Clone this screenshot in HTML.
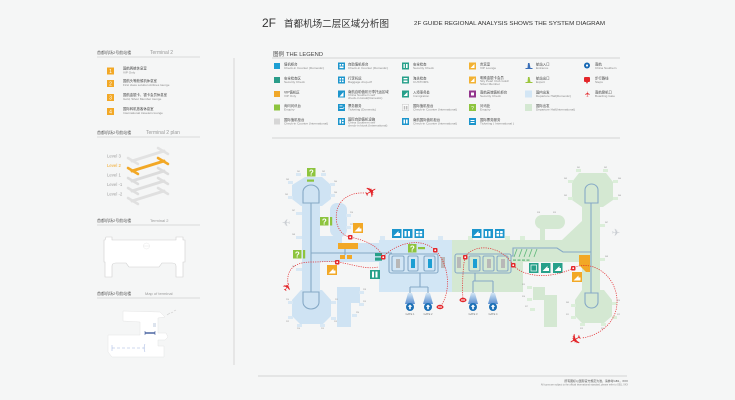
<!DOCTYPE html>
<html><head><meta charset="utf-8">
<style>
html,body{margin:0;padding:0;background:#f5f6f6;}
svg{display:block;}
.cn{font-family:"Liberation Sans","Noto Sans CJK SC",sans-serif;fill:#444;}
.en{font-family:"Liberation Sans",sans-serif;fill:#7a7a7a;}
.lc{font-size:3.4px;fill:#444;font-family:"Liberation Sans","Noto Sans CJK SC",sans-serif;}
.le{font-size:3.1px;fill:#888;font-family:"Liberation Sans",sans-serif;}
.tiny{font-size:1.8px;fill:#888;font-family:"Liberation Sans",sans-serif;}
.gt{font-size:2.6px;fill:#777;font-family:"Liberation Sans",sans-serif;}
</style></head><body>
<svg width="735" height="400" viewBox="0 0 735 400" xmlns="http://www.w3.org/2000/svg">
<rect width="735" height="400" fill="#f5f6f6"/>

<!-- TITLE -->
<text x="262" y="27" class="en" style="font-size:12px;fill:#333">2F</text>
<text x="284" y="27" class="cn" style="font-size:9.5px;fill:#333" textLength="105" lengthAdjust="spacingAndGlyphs">首都机场二层区域分析图</text>
<text x="414" y="25" class="en" style="font-size:5.5px;fill:#333" textLength="191" lengthAdjust="spacingAndGlyphs">2F GUIDE REGIONAL ANALYSIS SHOWS THE SYSTEM DIAGRAM</text>

<!-- LEFT PANEL -->
<line x1="234" y1="58" x2="234" y2="365" stroke="#cfcfcf" stroke-width="0.8"/>

<text x="97" y="54" class="cn" style="font-size:4px;fill:#555">首都机场2号航站楼</text>
<text x="150" y="54" class="en" style="font-size:5px;fill:#9a9a9a">Terminal 2</text>
<line x1="97" y1="57" x2="200" y2="57" stroke="#bdbdbd" stroke-width="0.6"/>

<g>
<rect x="107" y="67.5" width="7" height="7" fill="#f2a826"/><text x="110.5" y="73" class="en" style="font-size:5px;fill:#fff" text-anchor="middle">1</text>
<text x="123" y="69.5" class="lc">国航两舱休息室</text><text x="123" y="73.3" class="le">VIP Only</text>
<rect x="107" y="80" width="7" height="7" fill="#f2a826"/><text x="110.5" y="85.5" class="en" style="font-size:5px;fill:#fff" text-anchor="middle">2</text>
<text x="123" y="82" class="lc">国航头等舱候机休息室</text><text x="123" y="85.8" class="le">First class solution Airlines lounge</text>
<rect x="107" y="94" width="7" height="7" fill="#f2a826"/><text x="110.5" y="99.5" class="en" style="font-size:5px;fill:#fff" text-anchor="middle">3</text>
<text x="123" y="96" class="lc">国航金银卡、银卡会员休息室</text><text x="123" y="99.8" class="le">Gold, Silver Member lounge</text>
<rect x="107" y="108" width="7" height="7" fill="#f2a826"/><text x="110.5" y="113.5" class="en" style="font-size:5px;fill:#fff" text-anchor="middle">4</text>
<text x="123" y="110" class="lc">国际转机旅客休息室</text><text x="123" y="113.8" class="le">International travelers lounge</text>
</g>

<text x="97" y="134" class="cn" style="font-size:4px;fill:#555">首都机场2号航站楼</text>
<text x="146" y="134" class="en" style="font-size:5px;fill:#9a9a9a">Terminal 2 plan</text>
<line x1="97" y1="137" x2="200" y2="137" stroke="#bdbdbd" stroke-width="0.6"/>

<text x="107" y="157.5" class="en" style="font-size:4.3px;fill:#a0a0a0">Level 3</text>
<text x="107" y="167" class="en" style="font-size:4.3px;fill:#f2a826">Level 2</text>
<text x="107" y="176.5" class="en" style="font-size:4.3px;fill:#a0a0a0">Level 1</text>
<text x="107" y="186" class="en" style="font-size:4.3px;fill:#a0a0a0">Level -1</text>
<text x="107" y="195.5" class="en" style="font-size:4.3px;fill:#a0a0a0">Level -2</text>

<g stroke-linecap="round">
<g stroke="#e2e2e2" transform="translate(0,-10)"><line x1="132" y1="171" x2="164" y2="161" stroke-width="3"/><line x1="128" y1="168" x2="138" y2="174" stroke-width="2.5"/><line x1="158" y1="158" x2="168" y2="164" stroke-width="2.5"/></g>
<g stroke="#e0e0e0" transform="translate(0,30)"><line x1="132" y1="171" x2="164" y2="161" stroke-width="3"/><line x1="128" y1="168" x2="138" y2="174" stroke-width="2.5"/><line x1="158" y1="158" x2="168" y2="164" stroke-width="2.5"/></g>
<g stroke="#dedede" transform="translate(0,20)"><line x1="132" y1="171" x2="164" y2="161" stroke-width="3"/><line x1="128" y1="168" x2="138" y2="174" stroke-width="2.5"/><line x1="158" y1="158" x2="168" y2="164" stroke-width="2.5"/></g>
<g stroke="#dcdcdc" transform="translate(0,10)"><line x1="132" y1="171" x2="164" y2="161" stroke-width="3"/><line x1="128" y1="168" x2="138" y2="174" stroke-width="2.5"/><line x1="158" y1="158" x2="168" y2="164" stroke-width="2.5"/></g>
<g stroke="#f2a826"><line x1="132" y1="171" x2="164" y2="161" stroke-width="3"/><line x1="128" y1="168" x2="138" y2="174" stroke-width="2.5"/><line x1="158" y1="158" x2="168" y2="164" stroke-width="2.5"/></g>
</g>

<text x="97" y="222" class="cn" style="font-size:4px;fill:#555">首都机场2号航站楼</text>
<text x="150" y="222" class="en" style="font-size:4px;fill:#9a9a9a">Terminal 2</text>
<line x1="97" y1="225" x2="200" y2="225" stroke="#bdbdbd" stroke-width="0.6"/>

<!-- terminal outline -->
<path d="M106,237 h6 v3 h64 v-3 h7 v3 h2 v22 h-2 v15 h-7 v-11 q0,-3 -4,-3 h-10 l-3,4 h-30 l-3,-4 h-10 q-4,0 -4,3 v11 h-7 v-15 h-1 v-22 h1 z" fill="#ffffff" stroke="#cfcfcf" stroke-width="0.6"/>
<circle cx="146.5" cy="246" r="3" fill="none" stroke="#e0e0e0" stroke-width="0.4"/>
<line x1="143.5" y1="246" x2="149.5" y2="246" stroke="#e0e0e0" stroke-width="0.4"/>

<text x="97" y="295" class="cn" style="font-size:4px;fill:#555">首都机场2号航站楼</text>
<text x="145" y="295" class="en" style="font-size:4px;fill:#9a9a9a">Map of terminal</text>
<line x1="97" y1="298" x2="200" y2="298" stroke="#bdbdbd" stroke-width="0.6"/>

<!-- map of terminal -->
<path d="M123,311 L160,312 L165,317 L158,318 L158,333 L166,333 L168,337 L165,340 L158,340 L158,346 L164,346 L164,357 L112,357 L108,352 L108,335 L140,335 L140,322 L123,321 Z" fill="#ffffff" stroke="#e4e4e4" stroke-width="0.5"/>
<line x1="145" y1="333" x2="155" y2="333" stroke="#1f3f8a" stroke-width="1.2"/>
<line x1="145" y1="331" x2="145" y2="335" stroke="#1f3f8a" stroke-width="0.5"/><line x1="155" y1="331" x2="155" y2="335" stroke="#1f3f8a" stroke-width="0.5"/>
<line x1="112" y1="348" x2="145" y2="348" stroke="#9fb3e0" stroke-width="0.6" stroke-dasharray="3 2"/>
<path d="M112,345 v6 M145,344 q-2,4 0,8" stroke="#9fb3e0" stroke-width="0.5" fill="none"/>
<path d="M167,315 l3,-2 M171,313 l2,-1 M174,311 l2,-1" stroke="#cccccc" stroke-width="0.6"/>
<rect x="153" y="323" width="3" height="4" fill="#dde4ee"/>

<!-- LEGEND -->
<text x="273" y="56" class="cn" style="font-size:5.5px;fill:#444">图例</text>
<text x="286" y="56" class="en" style="font-size:5.8px;fill:#444">THE LEGEND</text>
<line x1="272" y1="58" x2="620" y2="58" stroke="#c8c8c8" stroke-width="0.7"/>
<line x1="272" y1="138" x2="620" y2="138" stroke="#c8c8c8" stroke-width="0.7"/>

<!-- col1 -->
<rect x="274" y="63" width="6" height="6" fill="#1d9fd3"/>
<text x="284" y="65.3" class="lc">值机柜台</text><text x="284" y="68.8" class="le">Check-in Counter (Domestic)</text>
<rect x="274" y="77" width="6" height="6" fill="#2a9d8a"/>
<text x="284" y="79.3" class="lc">安全检查区</text><text x="284" y="82.8" class="le">Security Check</text>
<rect x="274" y="91" width="6" height="6" fill="#f0a82a"/>
<text x="284" y="93.3" class="lc">VIP值机区</text><text x="284" y="96.8" class="le">VIP Only</text>
<rect x="274" y="104.5" width="6" height="6" fill="#8dc43e"/>
<text x="284" y="106.8" class="lc">询问问讯台</text><text x="284" y="110.3" class="le">Enquiry</text>
<rect x="274" y="118.5" width="6" height="6" fill="#d6d6d6"/>
<text x="284" y="120.8" class="lc">国际值机柜台</text><text x="284" y="124.3" class="le">Check-in Counter (International)</text>

<!-- col2 -->
<g fill="#1c95cc">
<rect x="338" y="62.5" width="7" height="7"/><rect x="338" y="76.5" width="7" height="7"/><rect x="338" y="90.5" width="7" height="7"/><rect x="338" y="104" width="7" height="7"/><rect x="338" y="118" width="7" height="7"/>
</g>
<g fill="#fff">
<rect x="339.5" y="64" width="1.6" height="1.6"/><rect x="342" y="64" width="1.6" height="1.6"/><rect x="339.5" y="66.5" width="4" height="1.6"/>
<rect x="339.5" y="78" width="1.6" height="1.6"/><rect x="342" y="78" width="1.6" height="1.6"/><rect x="339.5" y="80.5" width="1.6" height="1.6"/><rect x="342" y="80.5" width="1.6" height="1.6"/>
<path d="M339.5,96.5 l4,-4.5 v4.5 z"/>
<path d="M339.5,108.5 h4 v-2 l1,1 -1,1 M339.5,106 h3"/><rect x="339.5" y="105.5" width="3" height="0.8"/><rect x="339.5" y="108" width="4" height="0.8"/>
<rect x="339.5" y="119.5" width="1.6" height="4"/><rect x="342" y="119.5" width="1.6" height="1.6"/><rect x="342" y="122" width="1.6" height="1.6"/>
</g>
<text x="348" y="65.3" class="lc">自助值机柜台</text><text x="348" y="68.8" class="le">Check-in Counter (Domestic)</text>
<text x="348" y="79.3" class="lc">行李托运</text><text x="348" y="82.8" class="le">Baggage drop-off</text>
<text x="348" y="92.8" class="lc">南航自助值机行李托运区域</text><text x="348" y="95.8" class="le">China Southern self</text><text x="348" y="98.8" class="le">check-in kiosk(Domestic)</text>
<text x="348" y="106.8" class="lc">票务服务</text><text x="348" y="110.3" class="le">Ticketing (Domestic)</text>
<text x="348" y="120.3" class="lc">国际自助值机设施</text><text x="348" y="123.3" class="le">China Southern self</text><text x="348" y="126.3" class="le">check-in kiosk (International)</text>

<!-- col3 -->
<rect x="402" y="62.5" width="7" height="7" fill="#27a08a"/><rect x="402" y="76.5" width="7" height="7" fill="#27a08a"/><rect x="402" y="90.5" width="7" height="7" fill="#27a08a"/>
<rect x="402.3" y="104.3" width="6.4" height="6.4" fill="#fafafa" stroke="#bbb" stroke-width="0.4"/>
<rect x="402" y="118" width="7" height="7" fill="#1c95cc"/>
<g fill="#fff"><rect x="403.5" y="64" width="1.3" height="4"/><rect x="406" y="64" width="1.6" height="4"/>
<rect x="403.5" y="78" width="4" height="1.3"/><rect x="403.5" y="80.5" width="4" height="1.6"/>
<path d="M403.5,96 l4,-4 v4z"/><rect x="403.5" y="119.5" width="1.6" height="4"/><rect x="406" y="119.5" width="1.6" height="4"/></g>
<rect x="403.8" y="106" width="1.4" height="3.5" fill="#bbb"/><rect x="406" y="106" width="1.4" height="3.5" fill="#bbb"/>
<text x="413" y="65.3" class="lc">安全检查</text><text x="413" y="68.8" class="le">Security Check</text>
<text x="413" y="79.3" class="lc">海关检查</text><text x="413" y="82.8" class="le">CUSTOMS</text>
<text x="413" y="93.3" class="lc">入境事务处</text><text x="413" y="96.8" class="le">Immigration</text>
<text x="413" y="106.8" class="lc">国际值机柜台</text><text x="413" y="110.3" class="le">Check-in Counter (International)</text>
<text x="413" y="120.8" class="lc">南航国际值机柜台</text><text x="413" y="124.3" class="le">Check-in Counter (International)</text>

<!-- col4 -->
<rect x="469" y="62.5" width="7" height="7" fill="#f2b233"/><rect x="469" y="76.5" width="7" height="7" fill="#f2b233"/>
<rect x="469" y="90.5" width="7" height="7" fill="#93358d"/><rect x="469" y="104" width="7" height="7" fill="#8dc43e"/><rect x="469" y="118" width="7" height="7" fill="#1c95cc"/>
<g fill="#fff"><path d="M470.5,68 l4,-4 v4z"/><path d="M470.5,82 l4,-4 v4z"/><rect x="471" y="92.5" width="3" height="3"/>
<text x="472.5" y="109.8" class="en" style="font-size:5px;fill:#fff" text-anchor="middle">?</text>
<rect x="470.5" y="120" width="4" height="1"/><rect x="470.5" y="122" width="4" height="1"/></g>
<text x="480" y="65.3" class="lc">贵宾室</text><text x="480" y="68.8" class="le">VIP Lounge</text>
<text x="480" y="78.8" class="lc">明珠金银卡会员</text><text x="480" y="81.8" class="le">Sky Pearl Club Gold/</text><text x="480" y="84.8" class="le">Silver Member</text>
<text x="480" y="93.3" class="lc">南航高端值机柜台</text><text x="480" y="96.8" class="le">Security Check</text>
<text x="480" y="106.8" class="lc">问讯处</text><text x="480" y="110.3" class="le">Enquiry</text>
<text x="480" y="120.8" class="lc">国际票务服务</text><text x="480" y="124.3" class="le">Ticketing ( International )</text>

<!-- col5 -->
<path d="M528,63 l1.5,0 l1,5 h2 v1 h-7 v-1 h2 z" fill="#3a6fb8"/>
<path d="M528,77 l1.5,0 l1,5 h2 v1 h-7 v-1 h2 z" fill="#9bc53d"/>
<rect x="525" y="90.5" width="7" height="7" fill="#d3e6f5"/>
<rect x="525" y="104" width="7" height="7" fill="#d4e8d2"/>
<text x="536" y="65.3" class="lc">航站入口</text><text x="536" y="68.8" class="le">Entrance</text>
<text x="536" y="79.3" class="lc">航站出口</text><text x="536" y="82.8" class="le">Export</text>
<text x="536" y="93.3" class="lc">国内出发</text><text x="536" y="96.8" class="le">Departure Hall(Domestic)</text>
<text x="536" y="106.8" class="lc">国际出发</text><text x="536" y="110.3" class="le">Departure Hall(International)</text>

<!-- col6 -->
<circle cx="587" cy="65.5" r="3" fill="#1668b4"/><circle cx="587" cy="65.5" r="1.1" fill="#fff"/>
<path d="M585,77 h4 q1,0 1,1 v3 q0,1 -1,1 h-1 l-1,2 -1,-2 h-1 q-1,0 -1,-1 v-3 q0,-1 1,-1z" fill="#e3262a"/>
<text x="587.3" y="96.5" class="en" style="font-size:7px;fill:#e3262a" text-anchor="middle" transform="rotate(-90 587.3 94)">✈</text>
<text x="595" y="65.3" class="lc">南航</text><text x="595" y="68.8" class="le">China Southern</text>
<text x="595" y="79.3" class="lc">步行路线</text><text x="595" y="82.8" class="le">Steps</text>
<text x="595" y="93.3" class="lc">南航登机口</text><text x="595" y="96.8" class="le">Boarding Gate</text>

<!-- MAIN MAP -->
<!-- left pier (blue) -->
<g fill="#cfe3f3">
<polygon points="305,177 322,177 331,185 331,199 322,206 301,206 292,199 292,185"/>
<rect x="302" y="200" width="18" height="95"/>
<polygon points="301,290 322,290 331,300 331,316 323,324 300,324 292,316 292,300"/>
<rect x="318" y="243" width="64" height="19"/>
<rect x="320" y="236" width="22" height="26"/>
<rect x="330" y="203" width="17" height="34" rx="7"/>
<polygon points="337,287 360,287 360,303 351,303 351,327 337,327"/>
</g>
<!-- gate stubs left pier -->
<g fill="#d9e8f4">
<rect x="296" y="173" width="5" height="3"/><rect x="321" y="173" width="5" height="3"/><rect x="288" y="181" width="5" height="3"/><rect x="330" y="183" width="5" height="3"/>
<rect x="288" y="196" width="5" height="3"/><rect x="330" y="194" width="5" height="3"/><rect x="296" y="212" width="6" height="3"/><rect x="296" y="236" width="6" height="3"/>
<rect x="296" y="268" width="6" height="3"/><rect x="288" y="301" width="5" height="3"/><rect x="331" y="301" width="5" height="3"/><rect x="288" y="316" width="5" height="3"/>
<rect x="331" y="317" width="5" height="3"/><rect x="297" y="324" width="5" height="3"/><rect x="320" y="324" width="5" height="3"/><rect x="346" y="214" width="5" height="3"/><rect x="346" y="226" width="5" height="3"/>
<rect x="359" y="291" width="5" height="3"/><rect x="359" y="303" width="5" height="3"/><rect x="352" y="314" width="5" height="3"/>
</g>
<g class="tiny"><text x="297" y="172">201</text><text x="322" y="172">202</text><text x="286" y="180">203</text><text x="334" y="182">204</text><text x="285" y="195">205</text><text x="334" y="193">206</text><text x="292" y="211">207</text><text x="292" y="235">208</text><text x="292" y="267">209</text><text x="286" y="300">210</text><text x="335" y="300">211</text><text x="286" y="322">212</text><text x="334" y="322">213</text><text x="297" y="329">214</text><text x="321" y="329">215</text><text x="350" y="213">216</text><text x="350" y="225">217</text><text x="363" y="290">218</text><text x="363" y="302">219</text><text x="356" y="313">220</text></g>

<!-- domestic (blue) & international (green) halls -->
<rect x="379" y="240" width="74" height="52" fill="#d2e6f5"/>
<rect x="380" y="236" width="5" height="4" fill="#d9e8f4"/><rect x="438" y="236" width="5" height="4" fill="#d9e8f4"/>
<g fill="#d4e8d2">
<rect x="452" y="240" width="71" height="52"/>
<rect x="520" y="240" width="64" height="22"/>
<polygon points="562,240 582,221 583,262 562,262"/>
<rect x="535" y="215" width="30" height="14" rx="7"/>
<rect x="540" y="228" width="5" height="13"/>
<polygon points="533,287 545,287 545,295 557,295 557,327 544,327 544,300 533,300"/>
<polygon points="579,173 606,173 613,182 613,200 603,207 582,207 572,200 572,182"/>
<rect x="582" y="205" width="18" height="90"/>
<polygon points="582,290 604,290 612,300 612,316 604,323 582,323 575,316 575,300"/>
</g>
<g fill="#dbeed9">
<rect x="468" y="236" width="5" height="4"/><rect x="505" y="236" width="5" height="4"/><rect x="520" y="236" width="5" height="4"/>
<rect x="576" y="169" width="5" height="3"/><rect x="603" y="169" width="5" height="3"/><rect x="568" y="180" width="5" height="3"/><rect x="613" y="180" width="5" height="3"/>
<rect x="568" y="197" width="5" height="3"/><rect x="613" y="197" width="5" height="3"/><rect x="600" y="224" width="5" height="3"/><rect x="600" y="258" width="5" height="3"/>
<rect x="571" y="304" width="5" height="3"/><rect x="612" y="302" width="5" height="3"/><rect x="571" y="316" width="5" height="3"/><rect x="612" y="316" width="5" height="3"/>
<rect x="580" y="323" width="5" height="3"/><rect x="601" y="323" width="5" height="3"/><rect x="527" y="286" width="5" height="3"/><rect x="527" y="298" width="5" height="3"/><rect x="530" y="308" width="5" height="3"/>
</g>
<g class="tiny"><text x="577" y="168">301</text><text x="604" y="168">302</text><text x="564" y="179">303</text><text x="618" y="179">304</text><text x="564" y="196">305</text><text x="618" y="196">306</text><text x="605" y="223">307</text><text x="605" y="257">308</text><text x="566" y="303">309</text><text x="617" y="301">310</text><text x="566" y="315">311</text><text x="617" y="315">312</text><text x="580" y="329">313</text><text x="601" y="329">314</text><text x="522" y="285">315</text><text x="522" y="297">316</text><text x="525" y="307">317</text><text x="537" y="213">318</text><text x="553" y="213">319</text></g>

<!-- blue-gray circulation lines -->
<g fill="none" stroke="#86a9c6" stroke-width="1.1">
<path d="M303,203 L303,192 A8,7 0 0 1 319,192 L319,203 Z"/>
<line x1="311" y1="203" x2="311" y2="292"/>
<path d="M303,292 L319,292 L319,302 A8,7 0 0 1 303,302 Z"/>
<line x1="311" y1="253" x2="392" y2="253"/>
<line x1="345" y1="249" x2="345" y2="255"/>
<rect x="389" y="254" width="49" height="19" rx="2"/>
<rect x="392" y="256" width="12" height="15" rx="1.5"/><rect x="408" y="256" width="10" height="15" rx="1.5"/><rect x="424" y="256" width="11" height="15" rx="1.5"/>
<path d="M420,273 V287 M410,287 H428 M410,287 V293 M428,287 V293"/>
<rect x="455" y="254" width="56" height="19" rx="2"/>
<rect x="469" y="256" width="11" height="15" rx="1.5"/><rect x="483" y="256" width="11" height="15" rx="1.5"/><rect x="497" y="256" width="11" height="15" rx="1.5"/>
<path d="M475,273 V281 M473,281 H493 M473,281 V293 M493,281 V293"/>
<path d="M511,256 H513 V248 H557 L563,252 H591"/>
<path d="M585,203 L585,190 A6.5,6 0 0 1 598,190 L598,203 Z"/>
<line x1="591" y1="203" x2="591" y2="293"/>
<path d="M585,293 L598,293 L598,302 A6.5,6 0 0 1 585,302 Z"/>
</g>
<g fill="#b8b8b8"><rect x="396" y="259" width="4" height="9"/><rect x="441" y="257" width="4" height="11"/><rect x="457" y="257" width="4" height="11"/><rect x="487" y="259" width="4" height="9"/><rect x="501" y="259" width="4" height="9"/></g>
<g fill="#1d9fd3"><rect x="411" y="259" width="4" height="9"/><rect x="428" y="259" width="4" height="9"/><rect x="473" y="259" width="4" height="9"/></g>

<!-- gates -->
<defs><linearGradient id="fun" x1="0" y1="0" x2="0" y2="1"><stop offset="0" stop-color="#d2e6f5"/><stop offset="1" stop-color="#5b8fd0"/></linearGradient></defs>
<g fill="url(#fun)"><polygon points="408,293 412,293 415,304 405,304"/><polygon points="426,293 430,293 433,304 423,304"/><polygon points="471,293 475,293 478,304 468,304"/><polygon points="491,293 495,293 498,304 488,304"/></g>
<g fill="#1a6fb5"><circle cx="410" cy="307" r="4"/><circle cx="428" cy="307" r="4"/><circle cx="473" cy="307" r="4"/><circle cx="493" cy="307" r="4"/></g>
<g fill="#fff"><path d="M410,304.5 l2.3,2.3 h-1.5 v2.5 h-1.6 v-2.5 h-1.5z"/><path d="M428,304.5 l2.3,2.3 h-1.5 v2.5 h-1.6 v-2.5 h-1.5z"/><path d="M473,304.5 l2.3,2.3 h-1.5 v2.5 h-1.6 v-2.5 h-1.5z"/><path d="M493,304.5 l2.3,2.3 h-1.5 v2.5 h-1.6 v-2.5 h-1.5z"/></g>
<g class="gt" text-anchor="middle"><text x="410" y="315">GATE 1</text><text x="428" y="315">GATE 2</text><text x="473" y="315">GATE 3</text><text x="493" y="315">GATE 4</text></g>

<!-- icons: teal-blue above halls -->
<g fill="#1c95cc"><rect x="392" y="229" width="9.5" height="9"/><rect x="403" y="229" width="9.5" height="9"/><rect x="414.5" y="229" width="9.5" height="9"/>
<rect x="472" y="229" width="9.5" height="9"/><rect x="483.5" y="229" width="9.5" height="9"/><rect x="495" y="229" width="9.5" height="9"/></g>
<g fill="#fff"><path d="M393.5,236 l5,-5 v2 h1.5 v3z"/><rect x="404.5" y="231" width="2" height="5.5"/><rect x="408" y="231" width="2" height="5.5"/><rect x="416" y="231" width="2.6" height="2.3"/><rect x="419.6" y="231" width="2.6" height="2.3"/><rect x="416" y="234" width="2.6" height="2.3"/><rect x="419.6" y="234" width="2.6" height="2.3"/>
<path d="M473.5,236 l5,-5 v2 h1.5 v3z"/><rect x="485" y="231" width="2" height="5.5"/><rect x="488.5" y="231" width="2" height="5.5"/><rect x="496.5" y="231" width="2.6" height="2.3"/><rect x="500.1" y="231" width="2.6" height="2.3"/><rect x="496.5" y="234" width="2.6" height="2.3"/><rect x="500.1" y="234" width="2.6" height="2.3"/></g>

<!-- green ? icons -->
<g fill="#8dc43e"><rect x="307" y="168" width="8.5" height="8.5"/><rect x="307" y="179.5" width="7" height="2.2"/>
<rect x="320" y="217" width="8.5" height="8.5"/><rect x="330" y="217" width="2.2" height="8.5"/>
<rect x="293" y="250" width="8.5" height="8.5"/><rect x="303" y="250" width="2.2" height="8.5"/>
<rect x="408" y="244" width="8.5" height="8.5"/><rect x="418" y="247" width="7" height="2.2"/></g>
<g class="en" style="font-size:8px;fill:#fff;font-weight:bold" text-anchor="middle"><text x="311.3" y="175.5">?</text><text x="324.3" y="224.5">?</text><text x="297.3" y="257.5">?</text><text x="412.3" y="251.5">?</text></g>

<!-- orange -->
<g fill="#f2a826"><rect x="338" y="243" width="20" height="6"/><rect x="340" y="255" width="5" height="4"/><rect x="347" y="255" width="5" height="4"/>
<rect x="353" y="223" width="10" height="10"/><rect x="327" y="265" width="10" height="10"/>
<polygon points="579,255 590,255 590,272 586,272 579,265"/><rect x="572" y="272" width="10" height="10"/></g>
<g fill="#fff"><path d="M354.5,231.5 l5,-5 v2 h2 v3z"/><path d="M328.5,273.5 l5,-5 v2 h2 v3z"/><path d="M573.5,280.5 l5,-5 v2 h2 v3z"/></g>

<!-- teal -->
<g fill="#27a08a"><rect x="375" y="253" width="7" height="3.2"/><rect x="375" y="257.5" width="7" height="3.2"/><rect x="370" y="270" width="10" height="9"/>
<rect x="529" y="263" width="9.5" height="10"/><rect x="541" y="263" width="9.5" height="10"/><rect x="553" y="263" width="9.5" height="10"/></g>
<g fill="#fff"><rect x="372" y="271.5" width="2" height="6"/><rect x="375.5" y="271.5" width="2" height="6"/>
<rect x="531" y="265" width="5.5" height="6" fill="none" stroke="#fff" stroke-width="0.7"/><path d="M542.5,271 l5,-5 v2 h1.5 v3z"/><path d="M554.5,271 l5,-5 v2 h1.5 v3z"/></g>

<!-- green hatch -->
<g stroke="#5fb87a" stroke-width="0.8"><line x1="514" y1="257" x2="517" y2="249"/><line x1="519" y1="257" x2="522" y2="249"/><line x1="524" y1="257" x2="527" y2="249"/><line x1="529" y1="257" x2="532" y2="249"/><line x1="534" y1="257" x2="537" y2="249"/></g>
<g fill="#5fb87a"><rect x="513" y="259.5" width="3" height="1.2"/><rect x="517.5" y="259.5" width="3" height="1.2"/><rect x="522" y="259.5" width="3" height="1.2"/><rect x="526.5" y="259.5" width="3" height="1.2"/></g>

<!-- gray planes -->
<text x="286" y="226" class="en" style="font-size:10px;fill:#c9cdd2" text-anchor="middle" transform="rotate(180 286 222.5)">✈</text>
<text x="616" y="236" class="en" style="font-size:10px;fill:#c9cdd2" text-anchor="middle">✈</text>

<!-- red dashed routes -->
<g fill="none" stroke="#e3262a" stroke-width="0.7" stroke-dasharray="1.2 1.1">
<path d="M364,193 C345,192 333,205 337,224 C340,233 345,236 350,237 C364,240 378,245 383,257"/>
<path d="M383,257 C395,244 420,236 435,250 C449,263 452,292 440,307"/>
<path d="M288,284 C286,268 296,262 312,262 C322,262 330,261 337,262 C352,264 367,270 378,267"/>
<path d="M463,300 C462,285 463,266 465,257 C475,242 502,246 513,265 C525,279 555,278 573,268 C592,259 616,275 617,300 C618,320 602,335 582,338"/>
</g>
<!-- red markers -->
<g fill="#e3262a">
<rect x="348" y="235" width="4.5" height="4.5" rx="1"/><rect x="381" y="255" width="4.5" height="4.5" rx="1"/><rect x="335" y="260" width="4.5" height="4.5" rx="1"/>
<rect x="433" y="248" width="4.5" height="4.5" rx="1"/><rect x="463" y="255" width="4.5" height="4.5" rx="1"/><rect x="511" y="263" width="4.5" height="4.5" rx="1"/><rect x="571" y="266" width="4.5" height="4.5" rx="1"/>
<ellipse cx="440" cy="307" rx="3.5" ry="2.2"/><ellipse cx="463" cy="300" rx="3.5" ry="2.2"/>
</g>
<g fill="#fff"><circle cx="350.2" cy="237.2" r="0.9"/><circle cx="383.2" cy="257.2" r="0.9"/><circle cx="337.2" cy="262.2" r="0.9"/><circle cx="435.2" cy="250.2" r="0.9"/><circle cx="465.2" cy="257.2" r="0.9"/><circle cx="513.2" cy="265.2" r="0.9"/><circle cx="573.2" cy="268.2" r="0.9"/>
<rect x="438" y="306.5" width="4" height="1"/><rect x="461" y="299.5" width="4" height="1"/></g>
<!-- red planes -->
<text x="371" y="197" class="en" style="font-size:15px;fill:#e3262a" text-anchor="middle" transform="rotate(-30 371 192)">✈</text>
<text x="287" y="291" class="en" style="font-size:11px;fill:#e3262a" text-anchor="middle" transform="rotate(-60 287 287)">✈</text>
<text x="575" y="344" class="en" style="font-size:15px;fill:#e3262a" text-anchor="middle" transform="rotate(150 575 339)">✈</text>

<!-- FOOTER -->
<line x1="258" y1="376" x2="627" y2="376" stroke="#c8c8c8" stroke-width="0.7"/>
<text x="628" y="382" class="cn" style="font-size:2.9px;fill:#555" text-anchor="end">所有图标以国际官方规定为准，请参考GB1，XXX</text>
<text x="628" y="385.5" class="en" style="font-size:2.4px;fill:#888" text-anchor="end">All icons are subject to the official international standard, please refer to GB1, XXX</text>
</svg>
</body></html>
